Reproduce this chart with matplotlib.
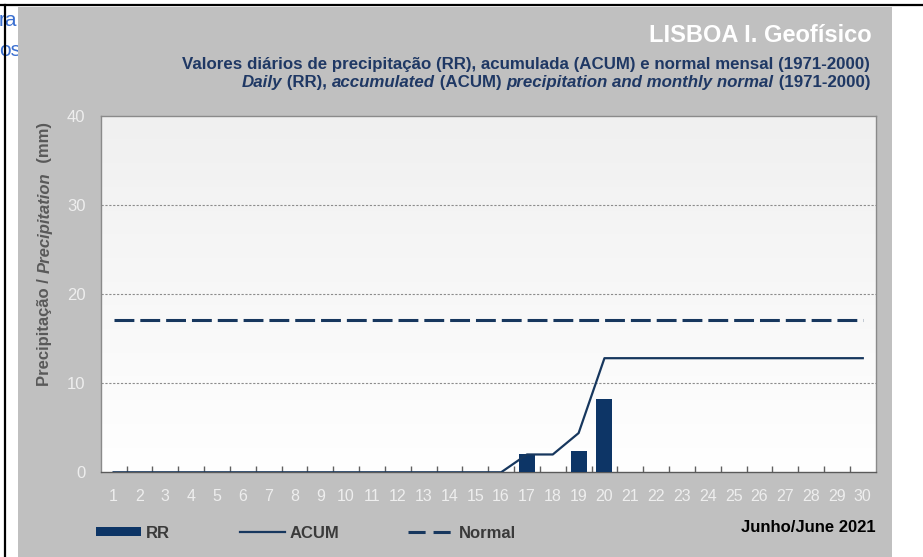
import matplotlib
matplotlib.use('Agg')
import matplotlib.pyplot as plt
import numpy as np
from matplotlib.patches import Rectangle, Patch
from matplotlib.lines import Line2D

# data (June 2021, Lisboa I. Geofisico)
days = list(range(1, 31))
rr = [0]*16 + [2.0, 0, 2.4, 8.2] + [0]*10
acum = [0]*16 + [2.0, 2.0, 4.4, 12.8] + [12.8]*10
normal = [17.1]*30
yticks = [0, 10, 20, 30, 40]

W, H = 923, 557
navy = '#0d3566'
lnavy = '#17375e'
gray_bg = '#c0c0c0'
tick_col = '#eeeeee'

plt.rcParams['font.family'] = ['Liberation Sans', 'DejaVu Sans']

fig = plt.figure(figsize=(W/100, H/100), dpi=100)
fig.patch.set_facecolor('white')

def fx(px):
    return px / W

def fy(py):
    return 1 - py / H

# leftover web page text behind the panel
fig.text(fx(-1), fy(20), 'ra', color='#3a6fd0', fontsize=15, va='center', zorder=0)
fig.text(fx(-1), fy(50), 'os', color='#3a6fd0', fontsize=15, va='center', zorder=0)

# gray chart panel
fig.patches.append(Rectangle((fx(18), 0), fx(892-18), fy(7), transform=fig.transFigure,
                             facecolor=gray_bg, edgecolor='none', zorder=1))
# screenshot frame lines
fig.lines.append(Line2D([0, 1], [fy(5), fy(5)], transform=fig.transFigure, color='black', lw=1.6, zorder=5))
fig.lines.append(Line2D([fx(4.5), fx(4.5)], [0, fy(5)], transform=fig.transFigure, color='black', lw=1.6, zorder=5))

ax = fig.add_axes([fx(100.7), fy(472.3), fx(875.7-100.7), (472.3-115.7)/H])
ax.set_zorder(2)

# plot area gradient
grad = np.linspace(1.0, 0.0, 256).reshape(-1, 1)
ax.imshow(grad, extent=(0.5, 30.5, 0, 40), aspect='auto', origin='upper',
          cmap=matplotlib.colors.LinearSegmentedColormap.from_list('g', ['#ffffff', '#f0f0f0']),
          zorder=0)

ax.bar(days, rr, width=0.62, color=navy, zorder=3, label='RR')
ax.plot(days, acum, color=lnavy, lw=1.6, zorder=4, label='ACUM')
ln, = ax.plot(days, normal, color=lnavy, lw=2.2, zorder=4, label='Normal')
ln.set_dashes((6.5, 1.95))

ax.set_xlim(0.5, 30.5)
ax.set_ylim(0, 40)
ax.set_yticks(yticks)
ax.set_xticks(days)
ax.set_xticks(np.arange(1.5, 30.5, 1), minor=True)
for y in yticks[1:4]:
    ax.axhline(y, color='#8c8c8c', lw=0.8, ls=(0, (2, 1.5)), zorder=1)

for s in ax.spines.values():
    s.set_color('#8a8a8a')
    s.set_linewidth(1.0)
ax.spines['bottom'].set_color('#5a5a5a')

ax.tick_params(axis='x', which='major', length=0, pad=12, labelcolor=tick_col, labelsize=11.5)
ax.tick_params(axis='x', which='minor', length=4, direction='in', color='#606060', width=1)
ax.tick_params(axis='y', length=0, pad=11, labelcolor=tick_col, labelsize=12)

renderer = fig.canvas.get_renderer()

def piece_width(s, props):
    t = fig.text(0, 0, '|' + s + '|', **props)
    w = t.get_window_extent(renderer).width
    t.remove()
    t = fig.text(0, 0, '||', **props)
    w -= t.get_window_extent(renderer).width
    t.remove()
    return w

def rich_text(x_end, y, pieces, base, vertical=False):
    # horizontal: run ends at x_end (pixels); vertical: run centred on y, at x_end
    widths = [piece_width(s, {**base, **p}) for s, p in pieces]
    if not vertical:
        x = x_end - sum(widths)
        for (s, p), w in zip(pieces, widths):
            fig.text(fx(x), fy(y), s, ha='left', va='center', zorder=6, **{**base, **p})
            x += w
    else:
        yy = y + sum(widths) / 2
        for (s, p), w in zip(pieces, widths):
            fig.text(fx(x_end), fy(yy), s, ha='left', va='center', rotation=90,
                     rotation_mode='anchor', zorder=6, **{**base, **p})
            yy -= w

fig.text(fx(872), fy(35), 'LISBOA I. Geofísico', ha='right', va='center', color='white',
         fontsize=17, fontweight='bold', zorder=6)

sub = dict(fontsize=12.2, fontweight='bold', color='#1f3864')
rich_text(870, 65, [('Valores diários de precipitação (RR), acumulada (ACUM) e normal mensal (1971-2000)', {})], sub)
rich_text(870, 82, [('Daily', {'style': 'italic'}), (' (RR), ', {}), ('accumulated', {'style': 'italic'}),
                    (' (ACUM) ', {}), ('precipitation and monthly normal', {'style': 'italic'}),
                    (' (1971-2000)', {})], sub)

ylab = dict(fontsize=12, fontweight='bold', color='#595959')
rich_text(45, 254, [('Precipitação / ', {}), ('Precipitation', {'style': 'italic'}), ('  (mm)', {})],
          ylab, vertical=True)

handles = [Patch(facecolor=navy, edgecolor='none'),
           Line2D([], [], color=lnavy, lw=1.6),
           Line2D([], [], color=lnavy, lw=2.2, dashes=(5.6, 2.6))]
leg = fig.legend(handles, ['RR', 'ACUM', 'Normal'], ncol=3, frameon=False,
                 loc='center left', bbox_to_anchor=(fx(88), fy(533)), borderpad=0,
                 handlelength=2.7, handleheight=0.5, handletextpad=0.3, columnspacing=4.15,
                 prop={'family': ['Liberation Sans Narrow', 'Liberation Sans'], 'size': 12,
                       'weight': 'bold'})
for t in leg.get_texts():
    t.set_color('#3a3a3a')
leg.set_zorder(6)

fig.text(fx(876), fy(527), 'Junho/June 2021', ha='right', va='center', color='black',
         fontsize=12, fontweight='bold', family=['Liberation Sans Narrow', 'Liberation Sans'], zorder=6)

fig.savefig('out.png', dpi=100, facecolor='white')
